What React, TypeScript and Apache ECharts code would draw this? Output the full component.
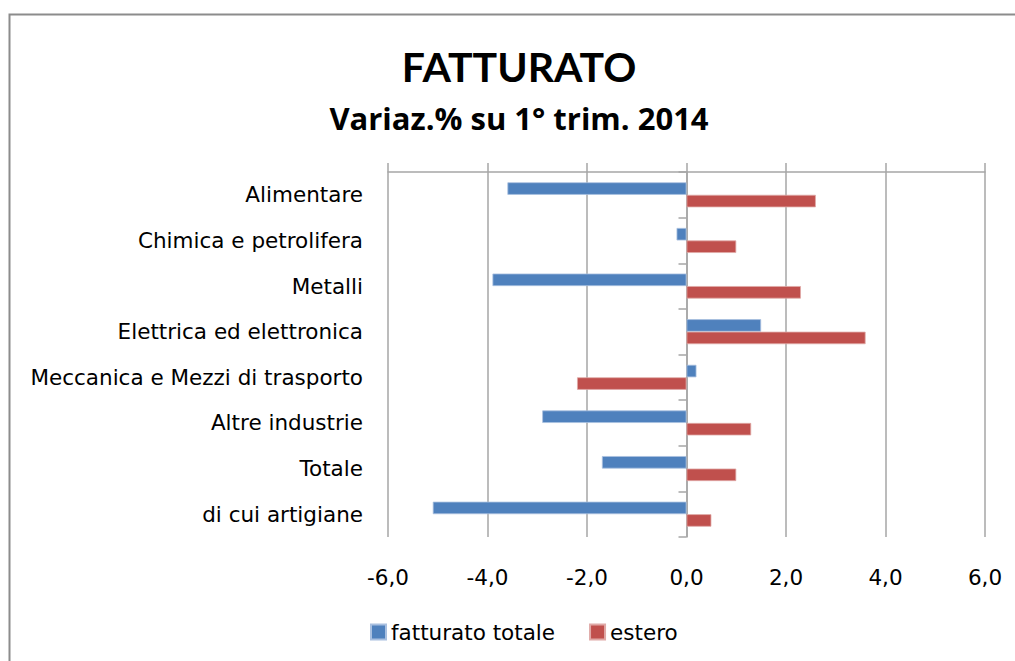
import React, { useEffect, useRef } from "react";
import * as echarts from "echarts";

const categories = [
  "Alimentare",
  "Chimica e petrolifera",
  "Metalli",
  "Elettrica ed elettronica",
  "Meccanica e Mezzi di trasporto",
  "Altre industrie",
  "Totale",
  "di cui artigiane",
];
const fatturatoTotale = [-3.6, -0.2, -3.9, 1.5, 0.2, -2.9, -1.7, -5.1];
const estero = [2.6, 1.0, 2.3, 3.6, -2.2, 1.3, 1.0, 0.5];
const seriesNames = ["fatturato totale", "estero"];
const title = "FATTURATO";
const subtitle = "Variaz.% su 1° trim. 2014";

const FONT = "'DejaVu Sans', sans-serif";
const SUB_FONT = "'Open Sans', sans-serif";
const TITLE_FONT = "Lato, sans-serif";
const FS = 21.5;

export default function App() {
  const ref = useRef<HTMLDivElement>(null);
  useEffect(() => {
    if (!ref.current) return;
    const chart = echarts.init(ref.current, null, { renderer: "svg" });
    const fmt = (v: number) => v.toFixed(1).replace(".", ",");
    chart.setOption({
      animation: false,
      backgroundColor: "#ffffff",
      textStyle: { fontFamily: FONT },
      graphic: [
        {
          type: "text",
          x: 519,
          y: 66,
          style: {
            text: title,
            fontFamily: TITLE_FONT,
            fontSize: 41,
            fontWeight: "bold",
            fill: "#000",
            align: "center",
            verticalAlign: "middle",
          },
        },
        {
          type: "text",
          x: 519,
          y: 118,
          style: {
            text: subtitle,
            fontFamily: SUB_FONT,
            fontSize: 31,
            fontWeight: "bold",
            fill: "#000",
            align: "center",
            verticalAlign: "middle",
          },
        },
        {
          type: "rect",
          left: 7,
          top: 12,
          shape: { width: 1100, height: 800 },
          style: { fill: "none", stroke: "#8c8c8c", lineWidth: 2 },
          silent: true,
          z: 100,
        },
      ],
      legend: {
        data: seriesNames,
        left: 365,
        top: 616,
        itemWidth: 15,
        itemHeight: 15,
        itemGap: 34,
        icon: "rect",
        textStyle: { fontFamily: FONT, fontSize: FS, color: "#000", padding: [0, 0, 0, 0] },
      },
      grid: { left: 388, right: 30, top: 172, bottom: 124, containLabel: false },
      xAxis: [
        {
          type: "value",
          position: "bottom",
          min: -6,
          max: 6,
          interval: 2,
          axisLine: { show: false },
          axisTick: { show: false },
          axisLabel: {
            formatter: fmt,
            fontFamily: FONT,
            fontSize: FS,
            color: "#000",
            margin: 29,
          },
          splitLine: { show: true, lineStyle: { color: "#a6a6a6", width: 1.5 } },
        },
        {
          type: "value",
          position: "top",
          min: -6,
          max: 6,
          interval: 2,
          axisLine: { show: true, onZero: false, lineStyle: { color: "#a6a6a6", width: 1.5 } },
          axisTick: { show: true, inside: false, length: 9, lineStyle: { color: "#a6a6a6", width: 1.5 } },
          axisLabel: { show: false },
          splitLine: { show: false },
        },
      ],
      yAxis: [
        {
          type: "category",
          data: categories,
          inverse: true,
          position: "left",
          axisLine: { show: false },
          axisTick: { show: false },
          axisLabel: { fontFamily: FONT, fontSize: FS, color: "#000", margin: 25 },
        },
        {
          type: "category",
          data: categories,
          inverse: true,
          position: "left",
          axisLine: {
            show: true,
            onZero: true,
            onZeroAxisIndex: 0,
            lineStyle: { color: "#a6a6a6", width: 1.5 },
          },
          axisTick: { show: true, length: 8, lineStyle: { color: "#a6a6a6", width: 1.5 } },
          axisLabel: { show: false },
          splitLine: { show: false },
        },
      ],
      series: [
        {
          name: seriesNames[0],
          type: "bar",
          data: fatturatoTotale,
          xAxisIndex: 0,
          yAxisIndex: 0,
          barWidth: 12.5,
          barGap: "0%",
          itemStyle: { color: "#4F81BD", borderColor: "#a9c0e0", borderWidth: 0.8 },
        },
        {
          name: seriesNames[1],
          type: "bar",
          data: estero,
          xAxisIndex: 0,
          yAxisIndex: 0,
          barWidth: 12.5,
          barGap: "0%",
          itemStyle: { color: "#C0504D", borderColor: "#e0a9a7", borderWidth: 0.8 },
        },
      ],
    });
    return () => chart.dispose();
  }, []);
  return (
    <div
      ref={ref}
      style={{ position: "fixed", left: 0, top: 0, width: 1015, height: 661 }}
    />
  );
}
